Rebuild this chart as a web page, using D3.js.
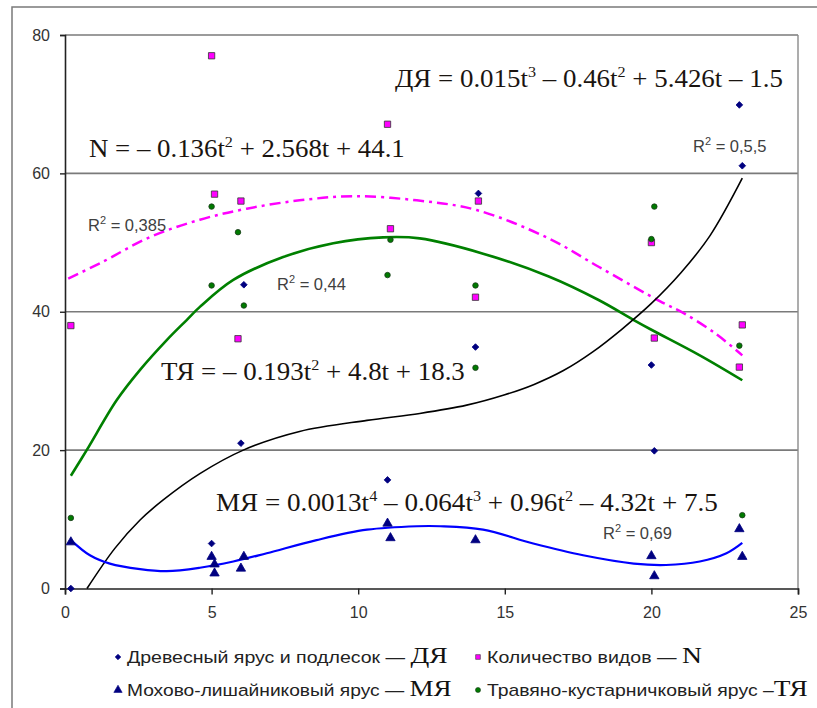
<!DOCTYPE html>
<html>
<head>
<meta charset="utf-8">
<script src="https://cdn.jsdelivr.net/npm/d3@7"></script>
<style>
  body { margin: 0; background: #fff; }
  svg { display: block; }
</style>
</head>
<body>
<svg id="chart" width="817" height="708"></svg>
<script>
// measured points (t, value)
const tDYa = [0.2, 5, 6.1, 6, 11, 14.1, 14, 20, 20.1, 23, 23.1];
const vDYa = [0, 6.5, 43.9, 21, 15.7, 57.1, 34.9, 32.3, 19.9, 69.9, 61.1];

const tN = [0.2, 5, 5.1, 6, 5.9, 11, 11.1, 14.1, 14, 20, 20.1, 23.1, 23];
const vN = [38, 77, 57, 56, 36.1, 67.1, 52, 56, 42.1, 50, 36.2, 38.1, 32];

const tTYa = [0.2, 5, 5, 5.9, 6.1, 11.1, 11, 14, 14, 20.1, 20, 23, 23.1];
const vTYa = [10.2, 55.2, 43.8, 51.5, 40.9, 50.4, 45.3, 43.8, 31.9, 55.2, 50.5, 35.1, 10.6];

const tMYa = [0.2, 5, 5.1, 5.1, 6.1, 6, 11, 11.1, 14, 20, 20.1, 23, 23.1];
const vMYa = [6.7, 4.6, 3.5, 2.2, 4.6, 2.9, 9.4, 7.3, 7.0, 4.7, 1.8, 8.6, 4.6];

// trend curves
const trDYaT = [0.75, 1.7, 2.56, 3.35, 4.6, 6.08, 8.0, 10.3, 12.1, 13.7, 15.0, 16.0, 17.0, 18.0, 19.0, 20.0, 21.0, 22.0, 23.1];
const trDYaV = [0, 5.8, 9.9, 12.8, 16.6, 20.0, 22.7, 24.3, 25.3, 26.5, 28.0, 29.5, 31.5, 34.2, 37.5, 41.2, 45.6, 51.0, 59.3];

const trTYaT = [0.2, 0.74, 1.76, 2.56, 3.47, 4.15, 4.6, 5.74, 7.44, 9.15, 10.85, 12.1, 14.26, 16.5, 18.2, 19.4, 20.0, 21.65, 23.1];
const trTYaV = [16.3, 20.0, 27.2, 31.6, 35.9, 38.8, 40.7, 44.6, 47.9, 49.9, 50.75, 50.6, 48.4, 45.1, 41.7, 38.8, 37.4, 33.7, 30.1];

const trNT = [0.11, 1.19, 2.9, 4.6, 6.2, 8.0, 9.83, 12.0, 14.04, 16.5, 18.2, 20.3, 21.1, 22.2, 23.1];
const trNV = [44.8, 47.0, 50.8, 53.3, 54.9, 56.1, 56.7, 56.1, 54.7, 50.6, 46.5, 41.5, 39.8, 36.8, 33.7];

const trMYaT = [0.2, 0.85, 1.53, 2.56, 3.47, 4.6, 5.74, 6.88, 8.58, 10.3, 12.0, 12.8, 14.26, 15.97, 17.67, 19.4, 20.5, 21.65, 22.56, 23.1];
const trMYaV = [7.0, 4.8, 3.6, 2.8, 2.5, 3.0, 3.9, 5.1, 7.0, 8.5, 9.0, 9.0, 8.5, 6.5, 4.8, 3.6, 3.4, 3.9, 5.1, 6.6];

const xTicks = [0, 5, 10, 15, 20, 25];
const yTicks = [0, 20, 40, 60, 80];

const svg = d3.select('#chart');

const x = d3.scaleLinear().domain([0, 25]).range([65, 798]);
const y = d3.scaleLinear().domain([0, 80]).range([588.5, 35]);

// outer frame
svg.append('rect')
    .attr('x', 12).attr('y', 7).attr('width', 830).attr('height', 720)
    .attr('fill', 'none').attr('stroke', '#7a7a7a').attr('stroke-width', 1.5);

// grid lines + plot border
svg.append('g').selectAll('line')
    .data(yTicks.filter(d => d > 0))
    .join('line')
    .attr('x1', x(0)).attr('x2', x(25))
    .attr('y1', d => y(d)).attr('y2', d => y(d))
    .attr('stroke', '#7a7a7a').attr('stroke-width', 1.6);

svg.append('line')
    .attr('x1', x(25)).attr('x2', x(25))
    .attr('y1', y(80)).attr('y2', y(0))
    .attr('stroke', '#8a8a8a').attr('stroke-width', 1.4);

// axes
const yAxis = svg.append('g')
    .attr('transform', `translate(${x(0)},0)`)
    .call(d3.axisLeft(y).tickValues(yTicks).tickSize(5).tickPadding(10));
const xAxis = svg.append('g')
    .attr('transform', `translate(0,${y(0)})`)
    .call(d3.axisBottom(x).tickValues(xTicks).tickSize(6).tickPadding(12));

[yAxis, xAxis].forEach(a => {
    a.select('.domain').attr('stroke', '#222').attr('stroke-width', 1.6);
    a.selectAll('.tick line').attr('stroke', '#222').attr('stroke-width', 1.4);
    a.selectAll('.tick text')
        .attr('font-family', 'Liberation Sans, Arial, sans-serif')
        .attr('font-size', 16).attr('fill', '#333');
});

// trend curves
const line = d3.line()
    .x(d => x(d[0])).y(d => y(d[1]))
    .curve(d3.curveCatmullRom.alpha(0.5));

svg.append('path')
    .datum(d3.zip(trNT, trNV))
    .attr('d', line)
    .attr('fill', 'none').attr('stroke', '#ff00ff').attr('stroke-width', 2.5)
    .attr('stroke-dasharray', '11,5,3,5');

svg.append('path')
    .datum(d3.zip(trTYaT, trTYaV))
    .attr('d', line)
    .attr('fill', 'none').attr('stroke', '#008000').attr('stroke-width', 2.6);

svg.append('path')
    .datum(d3.zip(trDYaT, trDYaV))
    .attr('d', line)
    .attr('fill', 'none').attr('stroke', '#000').attr('stroke-width', 1.6);

svg.append('path')
    .datum(d3.zip(trMYaT, trMYaV))
    .attr('d', line)
    .attr('fill', 'none').attr('stroke', '#0000ff').attr('stroke-width', 2.2);

// markers
const sym = (type, size) => d3.symbol().type(type).size(size)();

function points(ts, vs, type, size, fill, stroke, rot) {
    svg.append('g').selectAll('path')
        .data(d3.zip(ts, vs))
        .join('path')
        .attr('transform', d => `translate(${x(d[0])},${y(d[1])}) rotate(${rot || 0})`)
        .attr('d', sym(type, size))
        .attr('fill', fill)
        .attr('stroke', stroke).attr('stroke-width', 0.8);
}

points(tN, vN, d3.symbolSquare, 40, '#ff00ff', '#333');
points(tTYa, vTYa, d3.symbolCircle, 24, '#007a00', '#1a3a1a');
points(tDYa, vDYa, d3.symbolSquare, 22, '#000080', '#000080', 45);
points(tMYa, vMYa, d3.symbolTriangle, 38, '#000080', '#000080');

// equations: parts [text, isSuperscript]
function equation(px, py, parts, targetW) {
    const t = svg.append('text')
        .attr('x', px).attr('y', py)
        .attr('font-family', 'Liberation Serif, Times New Roman, serif')
        .attr('font-size', 25).attr('fill', '#1a1410');
    let up = false;
    parts.forEach(([s, sup]) => {
        const ts = t.append('tspan').text(s);
        if (sup && !up) { ts.attr('dy', -10).attr('font-size', 15); up = true; }
        else if (sup) { ts.attr('font-size', 15); }
        else if (up) { ts.attr('dy', 10); up = false; }
    });
    const w = t.node().getBBox().width;
    t.attr('transform', `translate(${px},0) scale(${targetW / w},1) translate(${-px},0)`);
}

equation(395, 87, [['ДЯ = 0.015t'], ['3', 1], [' – 0.46t'], ['2', 1], [' + 5.426t – 1.5']], 388);
equation(89, 157, [['N = – 0.136t'], ['2', 1], [' + 2.568t + 44.1']], 316);
equation(161, 380, [['ТЯ = – 0.193t'], ['2', 1], [' + 4.8t + 18.3']], 304);
equation(216, 511, [['МЯ = 0.0013t'], ['4', 1], [' – 0.064t'], ['3', 1], [' + 0.96t'], ['2', 1], [' – 4.32t + 7.5']], 502);

// R² labels
function r2(px, py, val) {
    const t = svg.append('text')
        .attr('x', px).attr('y', py)
        .attr('font-family', 'Liberation Sans, Arial, sans-serif')
        .attr('font-size', 16.5).attr('fill', '#404040');
    t.append('tspan').text('R');
    t.append('tspan').text('2').attr('dy', -7).attr('font-size', 11);
    t.append('tspan').text(' = ' + val).attr('dy', 7);
}
r2(88, 231, '0,385');
r2(277, 290, '0,44');
r2(693, 152, '0,5,5');
r2(603, 539, '0,69');

// legend
const legendItems = [
    { col: 0, row: 0, type: d3.symbolSquare, rot: 45, size: 16, fill: '#000080', stroke: '#000080', label: 'Древесный ярус и подлесок — ', abbr: 'ДЯ', w: 321 },
    { col: 1, row: 0, type: d3.symbolSquare, rot: 0, size: 22, fill: '#ff00ff', stroke: '#333', label: 'Количество видов — ', abbr: 'N', w: 215 },
    { col: 0, row: 1, type: d3.symbolTriangle, rot: 0, size: 30, fill: '#000080', stroke: '#000080', label: 'Мохово-лишайниковый ярус — ', abbr: 'МЯ', w: 325 },
    { col: 1, row: 1, type: d3.symbolCircle, rot: 0, size: 20, fill: '#007a00', stroke: '#1a3a1a', label: 'Травяно-кустарничковый ярус –', abbr: 'ТЯ', w: 321 }
];
const colX = [118, 478];
const rowY = [657, 690];

legendItems.forEach(d => {
    const cx = colX[d.col], cy = rowY[d.row];
    svg.append('path')
        .attr('transform', `translate(${cx},${cy}) rotate(${d.rot})`)
        .attr('d', sym(d.type, d.size))
        .attr('fill', d.fill).attr('stroke', d.stroke).attr('stroke-width', 0.6);
    const tx = cx + 9;
    const t = svg.append('text')
        .attr('x', tx).attr('y', cy + 6)
        .attr('font-family', 'Liberation Sans Narrow, Arial Narrow, Liberation Sans, sans-serif')
        .attr('font-size', 17).attr('fill', '#222');
    t.append('tspan').text(d.label);
    t.append('tspan').text(d.abbr)
        .attr('font-family', 'Liberation Serif, Times New Roman, serif')
        .attr('font-size', 24).attr('fill', '#111');
    const w = t.node().getBBox().width;
    t.attr('transform', `translate(${tx},0) scale(${d.w / w},1) translate(${-tx},0)`);
});
</script>
</body>
</html>
